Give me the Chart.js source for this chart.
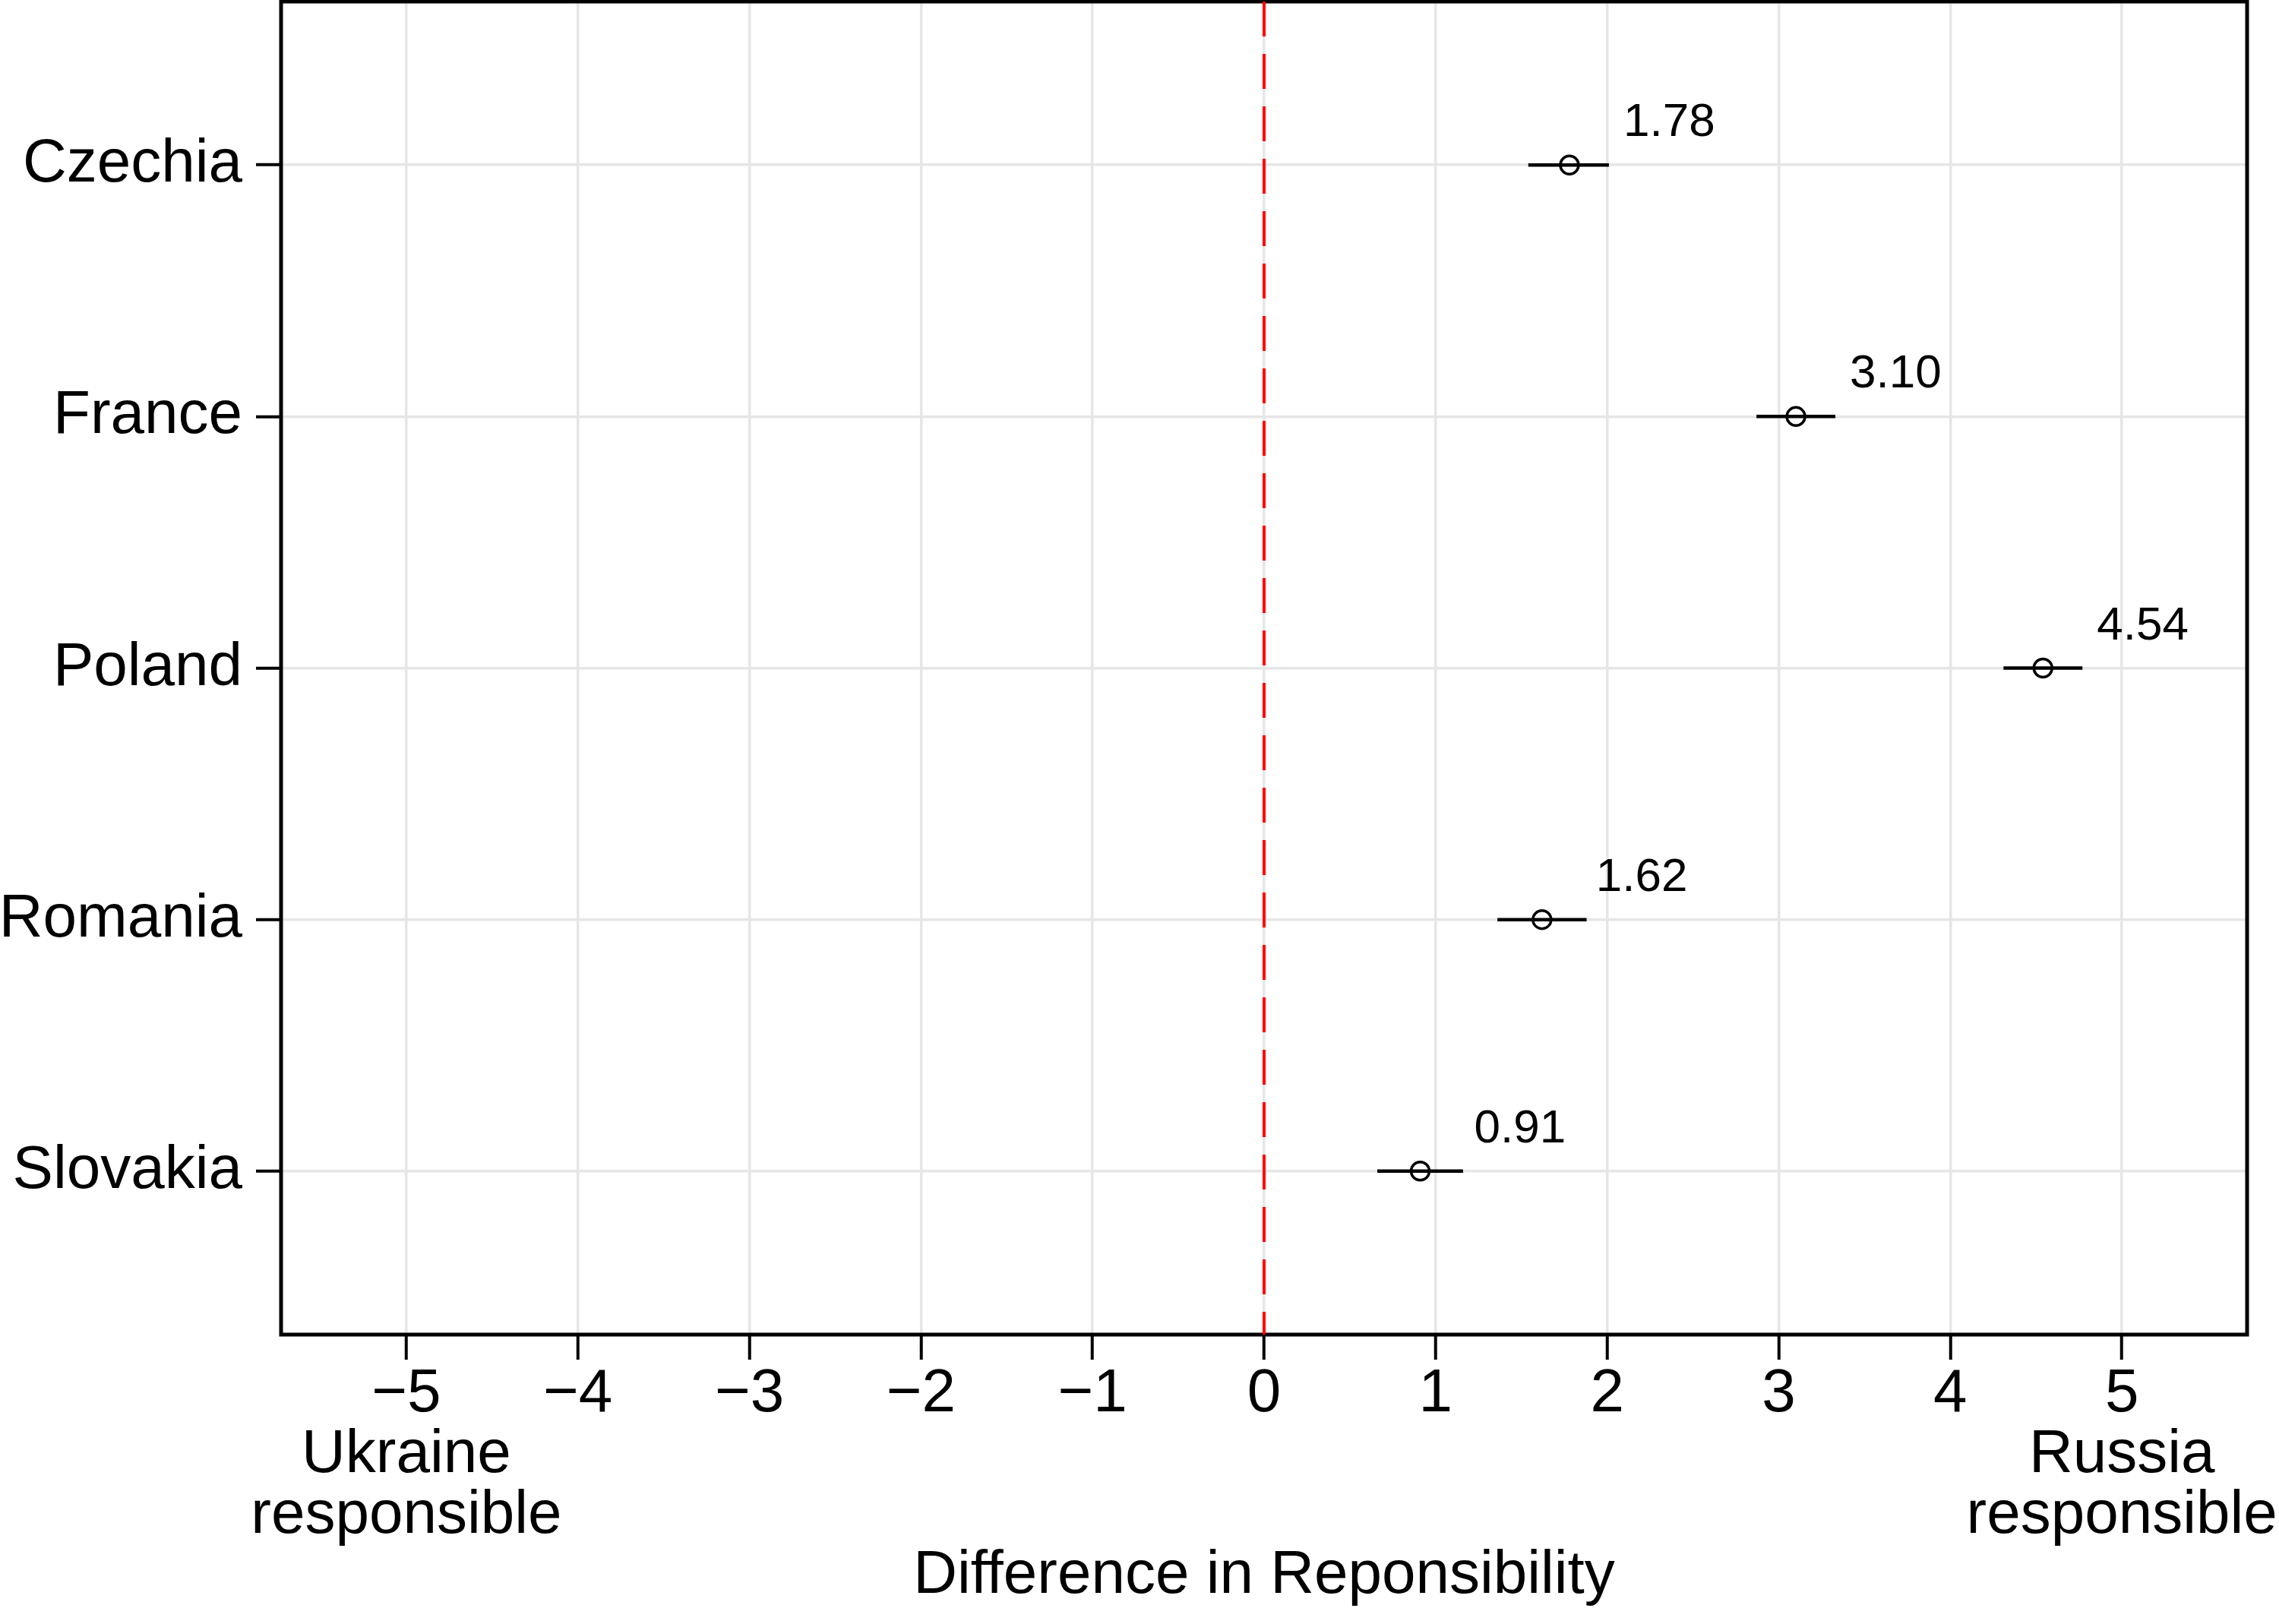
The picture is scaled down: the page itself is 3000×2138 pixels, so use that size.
<!DOCTYPE html>
<html>
<head>
<meta charset="utf-8">
<script src="https://cdn.jsdelivr.net/npm/chart.js@4.4.1/dist/chart.umd.min.js"></script>
<style>
html, body { margin: 0; padding: 0; background: #fff; }
#wrap { width: 3000px; height: 2138px; }
</style>
</head>
<body>
<div id="wrap"><canvas id="diffChart" width="3000" height="2138"></canvas></div>
<script>
// values
var countries = ['Czechia', 'France', 'Poland', 'Romania', 'Slovakia'];
var estimates = [1.78, 3.10, 4.54, 1.62, 0.91];
var ciLow = [1.54, 2.87, 4.31, 1.36, 0.66];
var ciHigh = [2.01, 3.33, 4.77, 1.88, 1.16];
var xTicks = [-5, -4, -3, -2, -1, 0, 1, 2, 3, 4, 5];
var xEndLabels = { '-5': ['Ukraine', 'responsible'], '5': ['Russia', 'responsible'] };
var refLine = 0;

var xMin = -5.73, xMax = 5.73;
var yMin = 0.35, yMax = 5.65;
var fontFamily = '"Liberation Sans", Arial, Helvetica, sans-serif';

var points = estimates.map(function (v, i) { return { x: v, y: i + 1 }; });

var datasets = [{
    label: 'estimate',
    data: points,
    showLine: false,
    pointStyle: 'circle',
    pointRadius: 12,
    pointBorderWidth: 3.5,
    pointBorderColor: '#000',
    pointBackgroundColor: 'rgba(0,0,0,0)',
}];

for (let i = 0; i < countries.length; i++) {
    datasets.push({
        label: countries[i] + ' CI',
        data: [{ x: ciLow[i], y: i + 1 }, { x: ciHigh[i], y: i + 1 }],
        showLine: true,
        borderColor: '#000',
        borderWidth: 4.5,
        pointRadius: 0,
    });
}

datasets.push({
    label: 'zero',
    data: [{ x: refLine, y: yMin }, { x: refLine, y: yMax }],
    showLine: true,
    borderColor: '#ff0000',
    borderWidth: 4,
    borderDash: [46, 23],
    pointRadius: 0,
});

// black box round the plot area
var frame = {
    id: 'frame',
    beforeDatasetsDraw: function (chart) {
        let a = chart.chartArea;
        let ctx = chart.ctx;
        ctx.save();
        ctx.strokeStyle = '#000';
        ctx.lineWidth = 5;
        ctx.strokeRect(a.left, a.top, a.right - a.left, a.bottom - a.top);
        ctx.restore();
    }
};

// numbers next to each point
var valueLabels = {
    id: 'valueLabels',
    afterDatasetsDraw: function (chart) {
        let ctx = chart.ctx;
        let meta = chart.getDatasetMeta(0);
        ctx.save();
        ctx.font = '62px ' + fontFamily;
        ctx.fillStyle = '#000';
        ctx.textAlign = 'left';
        ctx.textBaseline = 'alphabetic';
        meta.data.forEach(function (pt, i) {
            ctx.fillText(estimates[i].toFixed(2), pt.x + 71, pt.y - 38);
        });
        ctx.restore();
    }
};

function noPadding(scale) {
    scale.paddingTop = 0;
    scale.paddingBottom = 0;
    scale.paddingLeft = 0;
    scale.paddingRight = 0;
}

var diffChart = new Chart(document.getElementById('diffChart').getContext('2d'), {
    type: 'scatter',
    data: { datasets: datasets },
    plugins: [frame, valueLabels],
    options: {
        responsive: false,
        animation: false,
        devicePixelRatio: 1,
        layout: {
            autoPadding: false,
            padding: { top: 2, right: 42, bottom: 0, left: 0 },
        },
        plugins: {
            legend: { display: false },
            tooltip: { enabled: false },
        },
        scales: {
            x: {
                type: 'linear',
                min: xMin,
                max: xMax,
                afterBuildTicks: function (scale) {
                    scale.ticks = xTicks.map(function (v) { return { value: v }; });
                },
                afterFit: function (scale) {
                    scale.height = 381;
                    noPadding(scale);
                },
                grid: { color: '#e6e6e6', lineWidth: 3.5, tickColor: '#000', tickWidth: 4, tickLength: 33 },
                border: { display: false },
                ticks: {
                    color: '#000',
                    font: { family: fontFamily, size: 80, lineHeight: 1 },
                    padding: 6,
                    maxRotation: 0,
                    autoSkip: false,
                    callback: function (v) {
                        let s = v < 0 ? '\u2212' + Math.abs(v) : String(v);
                        if (xEndLabels[v]) return [s].concat(xEndLabels[v]);
                        return s;
                    },
                },
                title: {
                    display: true,
                    text: 'Difference in Reponsibility',
                    color: '#000',
                    font: { family: fontFamily, size: 80, lineHeight: 1 },
                    padding: { top: 0, bottom: 23 },
                },
            },
            y: {
                type: 'linear',
                min: yMin,
                max: yMax,
                reverse: true,
                afterBuildTicks: function (scale) {
                    scale.ticks = countries.map(function (c, i) { return { value: i + 1 }; });
                },
                afterFit: function (scale) {
                    scale.width = 370;
                    noPadding(scale);
                },
                grid: { color: '#e6e6e6', lineWidth: 3.5, tickColor: '#000', tickWidth: 4, tickLength: 33 },
                border: { display: false },
                ticks: {
                    color: '#000',
                    font: { family: fontFamily, size: 80, lineHeight: 1 },
                    padding: 18,
                    autoSkip: false,
                    callback: function (v) { return countries[v - 1]; },
                },
            },
        },
    },
});
</script>
</body>
</html>
